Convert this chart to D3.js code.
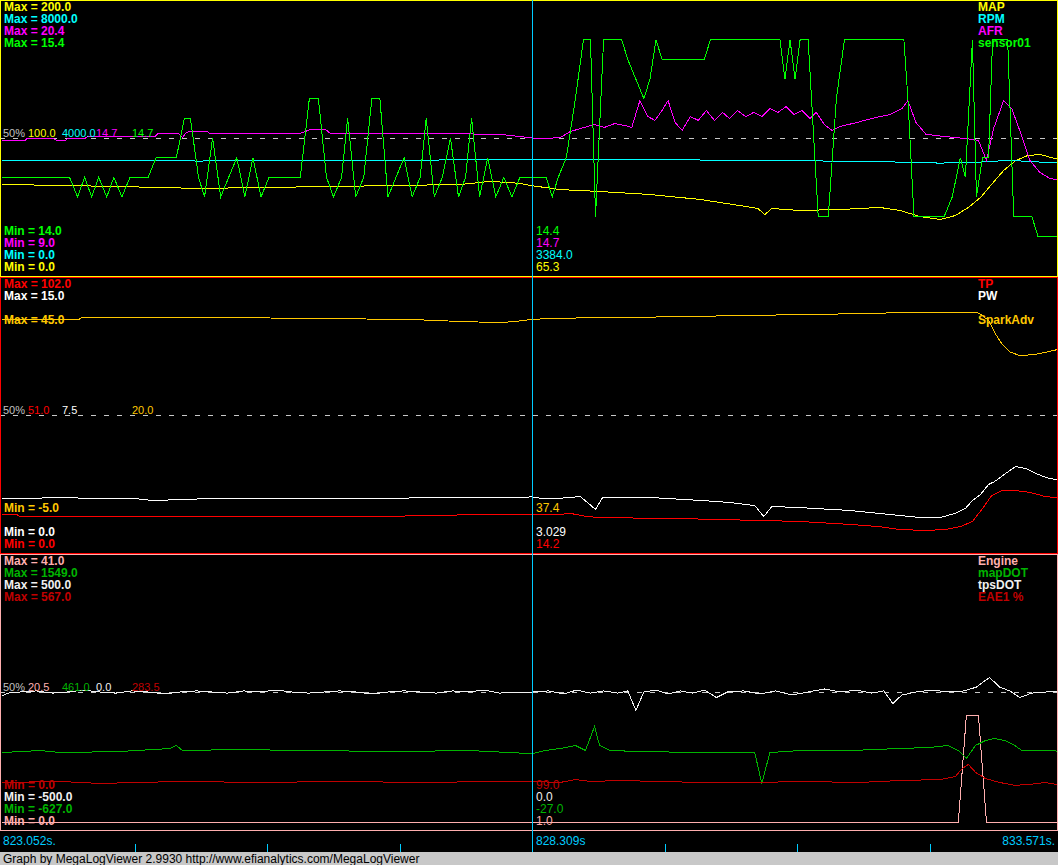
<!DOCTYPE html>
<html><head><meta charset="utf-8">
<script src="https://cdn.jsdelivr.net/npm/d3@7/dist/d3.min.js"></script>
<style>body{margin:0;background:#000;overflow:hidden}svg{display:block}</style>
</head><body><svg id="c" width="1058" height="865"></svg>
<script>
// ---- time axis (seconds) ----
const timeStart = 823.052, timeEnd = 833.571, timeCursor = 828.309;
const timeLabels = ["823.052s.", "828.309s", "833.571s."];

// ---- series data: [elapsed seconds, value] ----
const mapData = [[0,66.2],[0.58,65.5],[1.17,64.7],[1.96,63.3],[2.56,64.0],[3.26,64.7],[3.95,65.5],[4.55,66.2],[4.84,68.4],[5.04,67.6],[5.14,67.0],[5.26,65.3],[5.54,62.5],[5.93,61.1],[6.43,58.9],[6.93,55.3],[7.32,50.9],[7.50,48.7],[7.57,44.4],[7.64,48.7],[7.92,47.3],[8.32,48.0],[8.71,49.5],[8.91,47.3],[9.11,42.9],[9.31,40.7],[9.46,43.6],[9.59,49.5],[9.71,56.7],[9.82,66.2],[9.94,76.4],[10.06,83.6],[10.18,87.3],[10.30,88.0],[10.45,85.1],[10.52,83.6]];
const rpmData = [[0,3350],[0.97,3340],[1.96,3330],[2.96,3345],[3.95,3350],[4.74,3370],[5.26,3384],[5.93,3370],[6.93,3360],[7.92,3340],[8.91,3300],[9.31,3270],[9.71,3300],[10.00,3350],[10.30,3300],[10.52,3290]];
const afrData = [[0,14.6],[0.23,14.6],[0.25,14.68],[0.51,14.68],[0.54,14.6],[0.63,14.6],[0.65,14.68],[0.82,14.68],[0.85,14.76],[1.52,14.76],[1.55,14.89],[1.75,14.89],[1.79,14.72],[1.83,14.93],[1.87,14.97],[2.04,14.97],[2.06,14.89],[2.96,14.89],[3.06,15.05],[3.21,15.05],[3.26,14.89],[3.95,14.89],[4.25,14.89],[4.94,14.85],[5.14,14.76],[5.26,14.7],[5.39,14.68],[5.54,14.72],[5.64,14.97],[5.74,15.09],[5.88,15.26],[5.98,15.14],[6.08,15.30],[6.18,15.22],[6.25,15.14],[6.33,16.25],[6.41,15.59],[6.48,15.43],[6.55,15.84],[6.61,16.25],[6.68,15.34],[6.75,15.01],[6.83,15.59],[6.91,15.43],[6.99,15.84],[7.07,15.43],[7.15,15.76],[7.22,15.51],[7.30,15.84],[7.38,15.59],[7.46,15.76],[7.54,15.59],[7.62,15.92],[7.70,15.76],[7.78,16.0],[7.86,15.67],[7.94,15.84],[8.02,15.51],[8.08,15.76],[8.16,15.26],[8.24,15.01],[8.32,15.18],[8.48,15.34],[8.63,15.51],[8.81,15.67],[8.93,15.92],[8.99,16.25],[9.07,15.34],[9.17,14.85],[9.36,14.76],[9.56,14.68],[9.69,14.6],[9.77,13.77],[9.84,15.09],[9.94,16.25],[10.02,15.92],[10.10,15.01],[10.20,13.77],[10.30,13.27],[10.40,13.02],[10.52,12.94]];
const sensorData = [[0,14.5],[0.67,14.5],[0.75,14.4],[0.82,14.5],[0.89,14.4],[0.96,14.5],[1.04,14.4],[1.11,14.5],[1.19,14.4],[1.27,14.5],[1.45,14.5],[1.53,14.6],[1.73,14.6],[1.81,14.8],[1.87,14.8],[1.95,14.5],[2.01,14.4],[2.09,14.7],[2.17,14.4],[2.25,14.5],[2.33,14.6],[2.41,14.4],[2.49,14.6],[2.57,14.4],[2.65,14.5],[2.96,14.5],[3.05,14.9],[3.14,14.9],[3.22,14.5],[3.29,14.4],[3.37,14.5],[3.43,14.8],[3.51,14.4],[3.59,14.5],[3.67,14.9],[3.75,14.9],[3.83,14.4],[3.91,14.5],[3.99,14.6],[4.07,14.4],[4.15,14.5],[4.21,14.8],[4.29,14.4],[4.37,14.5],[4.45,14.7],[4.53,14.4],[4.60,14.5],[4.66,14.8],[4.74,14.4],[4.82,14.6],[4.90,14.4],[4.98,14.5],[5.06,14.4],[5.14,14.5],[5.40,14.5],[5.46,14.4],[5.52,14.5],[5.60,14.6],[5.69,14.9],[5.77,15.2],[5.84,15.2],[5.89,14.3],[5.97,15.2],[6.09,15.2],[6.15,15.2],[6.21,15.1],[6.29,15.0],[6.37,14.9],[6.43,15.0],[6.49,15.2],[6.55,15.1],[6.97,15.1],[7.03,15.2],[7.72,15.2],[7.77,15.0],[7.82,15.2],[7.87,15.0],[7.92,15.2],[8.00,15.2],[8.10,14.3],[8.20,14.3],[8.28,14.9],[8.36,15.2],[8.95,15.2],[8.99,14.9],[9.05,14.3],[9.35,14.3],[9.43,14.4],[9.51,14.6],[9.56,14.5],[9.63,15.2],[9.67,14.4],[9.73,14.6],[9.79,14.6],[9.83,15.2],[9.98,15.2],[10.04,14.3],[10.22,14.3],[10.28,14.2],[10.52,14.2]];

const tpData = [[0,14.0],[0.15,14.0],[0.17,13.5],[1.33,13.5],[1.35,13.2],[2.96,13.2],[3.95,13.5],[4.64,14.0],[5.26,14.2],[5.49,14.0],[5.64,14.5],[5.82,13.2],[6.23,12.9],[6.33,12.6],[6.73,12.6],[7.13,12.2],[7.52,11.9],[7.92,11.5],[8.42,10.4],[8.71,9.6],[8.91,8.5],[9.16,8.2],[9.36,8.5],[9.51,9.6],[9.63,11.5],[9.73,16.3],[9.82,21.1],[9.92,23.0],[10.05,23.0],[10.20,22.3],[10.35,20.8],[10.52,20.0]];
const pwData = [[0,2.96],[0.65,2.98],[1.34,2.93],[1.47,2.85],[1.62,2.84],[1.67,2.89],[1.96,2.92],[2.96,2.95],[3.95,2.97],[4.94,3.0],[5.26,3.029],[5.39,2.92],[5.54,2.96],[5.74,3.05],[5.89,2.35],[5.96,3.0],[6.43,3.0],[6.93,2.84],[7.22,2.73],[7.47,2.56],[7.56,1.96],[7.64,2.51],[7.92,2.45],[8.42,2.29],[8.71,2.13],[8.91,2.02],[9.11,1.91],[9.31,1.91],[9.46,2.13],[9.56,2.40],[9.63,2.84],[9.71,3.16],[9.79,3.71],[9.85,3.87],[9.92,4.15],[10.00,4.47],[10.06,4.69],[10.16,4.58],[10.26,4.31],[10.36,4.09],[10.46,3.98],[10.52,3.93]];
const sparkData = [[0,37.45],[0.77,37.45],[0.79,37.67],[2.46,37.67],[3.45,37.5],[4.15,37.3],[4.55,37.0],[4.94,36.8],[5.09,37.0],[5.26,37.4],[5.54,37.6],[6.43,37.8],[7.42,38.1],[8.42,38.4],[8.91,38.6],[9.68,38.6],[9.71,38.3],[9.79,37.2],[9.85,35.0],[9.92,33.0],[10.00,31.5],[10.10,30.8],[10.25,31.0],[10.38,31.5],[10.52,32.1]];

const engineData = [[0,1],[9.49,1],[9.57,17],[9.69,17],[9.77,1],[10.52,1]];
const mapDotData = [[0,-18],[0.38,-2],[0.58,-18],[1.17,-10],[1.67,14],[1.73,38],[1.79,-2],[2.36,6],[2.96,-2],[3.95,-10],[4.64,-2],[5.26,-27],[5.39,-2],[5.54,14],[5.69,38],[5.79,-2],[5.88,188],[5.93,38],[6.03,-2],[6.33,-10],[6.93,-18],[7.47,-18],[7.54,-263],[7.62,-18],[7.92,-2],[8.42,-2],[8.91,14],[9.21,22],[9.39,38],[9.49,-2],[9.57,-65],[9.66,38],[9.76,77],[9.85,93],[9.95,77],[10.05,38],[10.12,-2],[10.40,-2],[10.52,-10]];
const tpsDotData = [[0,-15],[0.06,-4],[0.18,0],[0.34,4],[0.50,-4],[0.65,0],[0.81,7],[0.97,0],[1.13,-4],[1.29,4],[1.45,0],[1.61,-7],[1.77,0],[1.93,4],[2.08,0],[2.24,-4],[2.40,4],[2.56,0],[2.72,7],[2.88,0],[3.04,-4],[3.20,0],[3.35,4],[3.51,0],[3.67,-7],[3.83,0],[3.99,4],[4.15,0],[4.31,-4],[4.47,4],[4.62,0],[4.78,7],[4.94,-4],[5.10,0],[5.26,0],[5.42,4],[5.58,-7],[5.70,7],[5.84,-4],[5.97,4],[6.11,-4],[6.21,4],[6.29,-67],[6.37,0],[6.49,7],[6.61,-7],[6.73,4],[6.85,-4],[6.97,7],[7.09,-20],[7.20,0],[7.36,4],[7.52,-7],[7.68,4],[7.84,-11],[8.00,0],[8.16,11],[8.32,0],[8.48,7],[8.63,-4],[8.75,4],[8.84,-42],[8.93,-11],[9.07,0],[9.23,7],[9.39,0],[9.55,4],[9.67,18],[9.80,53],[9.90,18],[10.00,4],[10.10,-20],[10.22,-4],[10.36,0],[10.52,4]];
const eaeData = [[0,97],[0.58,99],[0.97,95],[1.77,99],[2.56,97],[3.35,99],[4.15,97],[4.94,99],[5.26,99],[5.54,97],[5.69,103],[5.84,99],[6.13,101],[6.93,97],[7.52,97],[7.92,99],[8.51,97],[8.91,101],[9.31,103],[9.46,109],[9.53,126],[9.59,134],[9.66,118],[9.76,105],[9.90,97],[10.05,91],[10.20,93],[10.35,97],[10.52,91]];

// ---- panel / series descriptors ----
const panel1Names = ["MAP","RPM","AFR","sensor01"];
const panel2Names = ["TP","PW",null,"SparkAdv"];
const panel3Names = ["Engine","mapDOT","tpsDOT","EAE1 %"];
const panel1Min = [0,0,9,14.0], panel1Max = [200,8000,20.4,15.4];
const panel2Min = [0,0,null,-5], panel2Max = [102,15,null,45];
const panel3Min = [0,-627,-500,0], panel3Max = [41,1549,500,567];
const panel1Cursor = ["65.3","3384.0","14.7","14.4"];
const panel2Cursor = ["14.2","3.029",null,"37.4"];
const panel3Cursor = ["1.0","-27.0","0.0","99.0"];

const colors1 = ["#FFFF00","#00FFFF","#FF00FF","#00FF00"];
const colors2 = ["#FF0000","#FFFFFF",null,"#FFC800"];
const colors3 = ["#FFAFAF","#00B400","#F0F0F0","#C00000"];

const panels = [
  {top:0, names:panel1Names, mins:panel1Min, maxs:panel1Max, cur:panel1Cursor, colors:colors1, data:[mapData,rpmData,afrData,sensorData]},
  {top:277, names:panel2Names, mins:panel2Min, maxs:panel2Max, cur:panel2Cursor, colors:colors2, data:[tpData,pwData,null,sparkData]},
  {top:554, names:panel3Names, mins:panel3Min, maxs:panel3Max, cur:panel3Cursor, colors:colors3, data:[engineData,mapDotData,tpsDotData,eaeData]}
];

const W = 1058, PH = 277;
const svg = d3.select("#c");
svg.append("rect").attr("width",W).attr("height",865).attr("fill","#000");
const FONT = "'Liberation Sans', Arial, Helvetica, sans-serif";
const fmt1 = v => (+v).toFixed(1);
const x = d3.scaleLinear().domain([0, timeEnd - timeStart]).range([2, 1062]);
const slotX = [28, 62, 96, 132];

const defs = svg.append("defs");
panels.forEach((p, pi) => {
  defs.append("clipPath").attr("id","clip"+pi).append("rect")
    .attr("x",1).attr("y",p.top+1).attr("width",W-2).attr("height",PH-2);
});

panels.forEach((p, pi) => {
  const g = svg.append("g");
  // 50% dashed line
  g.append("line").attr("x1",0).attr("x2",W).attr("y1",p.top+138.5).attr("y2",p.top+138.5)
    .attr("stroke","#C8C8C8").attr("stroke-dasharray","5,8").attr("shape-rendering","crispEdges");
  // series lines
  const lg = g.append("g").attr("clip-path",`url(#clip${pi})`);
  p.data.forEach((d, si) => {
    if (!d) return;
    const y = d3.scaleLinear().domain([p.mins[si], p.maxs[si]]).range([p.top+275.5, p.top+0.5]);
    const line = d3.line().x(v => x(v[0])).y(v => y(v[1]));
    lg.append("path").datum(d).attr("d", line).attr("fill","none")
      .attr("stroke", p.colors[si]).attr("stroke-width",1).attr("shape-rendering","crispEdges");
  });
  // border
  g.append("rect").attr("x",0.5).attr("y",p.top+0.5).attr("width",W-1).attr("height",PH-1)
    .attr("fill","none").attr("stroke",p.colors[0]).attr("shape-rendering","crispEdges");
  // labels
  p.names.forEach((n, si) => {
    if (!n) return;
    const c = p.colors[si];
    g.append("text").attr("x",4).attr("y",p.top+11+12*si).attr("fill",c)
      .attr("font-family",FONT).attr("font-weight","bold").attr("font-size","12px")
      .text("Max = " + fmt1(p.maxs[si]));
    g.append("text").attr("x",978).attr("y",p.top+11+12*si).attr("fill",c)
      .attr("font-family",FONT).attr("font-weight","bold").attr("font-size","12px").text(n);
    g.append("text").attr("x",4).attr("y",p.top+271-12*si).attr("fill",c)
      .attr("font-family",FONT).attr("font-weight","bold").attr("font-size","12px")
      .text("Min = " + fmt1(p.mins[si]));
    g.append("text").attr("x",536).attr("y",p.top+271-12*si).attr("fill",c)
      .attr("font-family",FONT).attr("font-size","12px").text(p.cur[si]);
    g.append("text").attr("x",slotX[si]).attr("y",p.top+137).attr("fill",c)
      .attr("font-family",FONT).attr("font-size","11px").text(fmt1((p.mins[si]+p.maxs[si])/2));
  });
  g.append("text").attr("x",3).attr("y",p.top+137).attr("fill","#C0C0C0")
    .attr("font-family",FONT).attr("font-size","11px").text("50%");
});

// time bar
const tb = svg.append("g");
const ticks = d3.range(1, 8).map(i => (timeEnd - timeStart) * i / 8);
tb.selectAll("line.tk").data(ticks).enter().append("line")
  .attr("x1", d => Math.round(x(d)) + 0.5).attr("x2", d => Math.round(x(d)) + 0.5)
  .attr("y1", 844).attr("y2", 852).attr("stroke", "#00CCFF");
const cx = Math.round(x(timeCursor - timeStart)) + 0.5;
svg.append("line").attr("x1",cx).attr("x2",cx).attr("y1",0).attr("y2",852)
  .attr("stroke","#00CCFF").attr("shape-rendering","crispEdges");
tb.append("text").attr("x",3).attr("y",845).attr("fill","#00CCFF").attr("font-family",FONT).attr("font-size","12px").text(timeLabels[0]);
tb.append("text").attr("x",536).attr("y",845).attr("fill","#00CCFF").attr("font-family",FONT).attr("font-size","12px").text(timeLabels[1]);
tb.append("text").attr("x",1055).attr("y",845).attr("text-anchor","end").attr("fill","#00CCFF").attr("font-family",FONT).attr("font-size","12px").text(timeLabels[2]);

// footer
svg.append("rect").attr("x",0).attr("y",852).attr("width",W).attr("height",13).attr("fill","#C8C8C8");
svg.append("text").attr("x",3).attr("y",863).attr("fill","#000").attr("font-family",FONT).attr("font-size","12px")
  .text("Graph by MegaLogViewer 2.9930 http://www.efianalytics.com/MegaLogViewer");
</script></body></html>
